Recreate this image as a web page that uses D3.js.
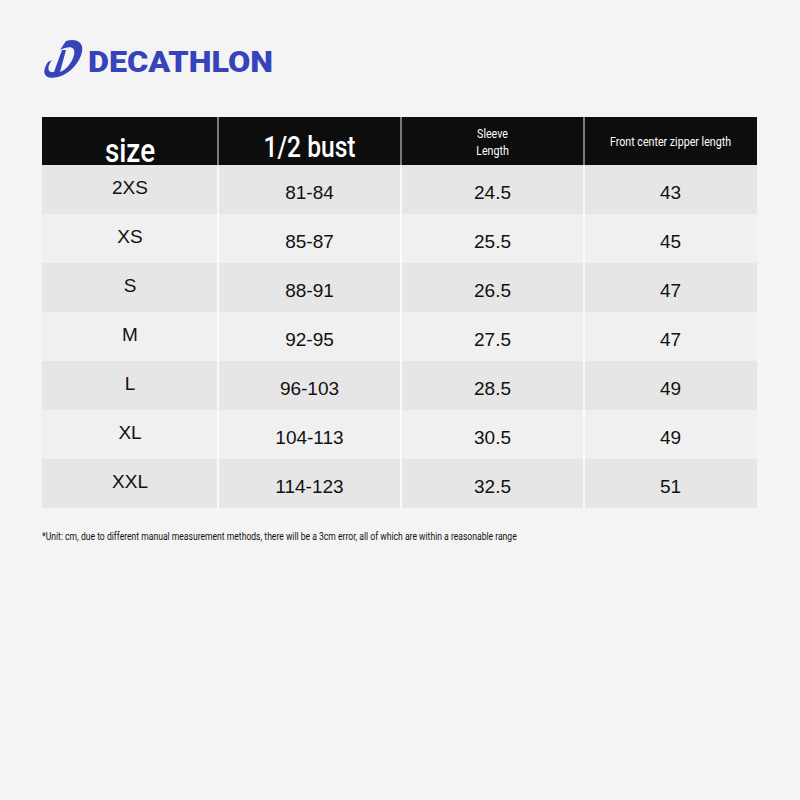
<!DOCTYPE html>
<html><head><meta charset="utf-8">
<script src="https://cdn.jsdelivr.net/npm/d3@7"></script>
<style>body{margin:0;background:#f4f4f4}</style></head>
<body><svg id="c" width="800" height="800"></svg>
<script>
const headers = ["size", "1/2 bust", "Sleeve\nLength", "Front center zipper length"];
const sizes = ["2XS", "XS", "S", "M", "L", "XL", "XXL"];
const bust = ["81-84", "85-87", "88-91", "92-95", "96-103", "104-113", "114-123"];
const sleeve = ["24.5", "25.5", "26.5", "27.5", "28.5", "30.5", "32.5"];
const zipper = ["43", "45", "47", "47", "49", "49", "51"];
const note = "*Unit: cm, due to different manual measurement methods, there will be a 3cm error, all of which are within a reasonable range";

const svg = d3.select("#c");
svg.append("rect").attr("width",800).attr("height",800).attr("fill","#f4f4f4");
const colEdges = [42, 218, 401, 584, 757];
const x = d3.scaleOrdinal().domain(d3.range(4)).range(colEdges.slice(0,4));
const w = i => colEdges[i+1]-colEdges[i];
const y = d3.scaleBand().domain(d3.range(sizes.length)).range([165, 508]).padding(0);
const cond = "'Roboto','Liberation Sans',sans-serif";

// logo
const g = svg.append("g").attr("fill","#3643BA");
g.append("path").attr("d","M48,62 C40,74 46,80 58,77 C70,74 80,62 82,52 C84,42 76,38 66,41 L60,50 C70,45 76,47 74,55 C72,63 66,70 60,72 L66,50 L62,50 L54,72 C48,73 46,68 52,60 Z");
g.append("text").attr("x",88).attr("y",72).attr("font-family",cond).attr("font-weight",900)
 .attr("font-size",30).attr("textLength",185).attr("lengthAdjust","spacingAndGlyphs").text("DECATHLON");

// header
svg.append("rect").attr("x",42).attr("y",117).attr("width",715).attr("height",48).attr("fill","#0d0d0d");
headers.forEach((h,i)=>{
  const cx = x(i)+w(i)/2;
  if(i>0) svg.append("line").attr("x1",x(i)).attr("x2",x(i)).attr("y1",117).attr("y2",165).attr("stroke","#e8e8e8").attr("stroke-width",1);
  const lines = h.split("\n");
  const fs = i<2?30:13;
  const t = svg.append("g").attr("transform",`translate(${cx},0) scale(0.82,1)`);
  lines.forEach((l,j)=>{
    const yy = i===0?162: i===1?157: i===2?(138+j*17): 146;
    t.append("text").attr("x",0).attr("y",yy).attr("text-anchor","middle")
     .attr("font-family",cond).attr("font-weight",i<2?500:400).attr("font-size",i===0?34:fs).attr("fill","#fff").text(l);
  });
});

// rows
const cols=[sizes,bust,sleeve,zipper];
sizes.forEach((s,r)=>{
  svg.append("rect").attr("x",42).attr("y",y(r)).attr("width",715).attr("height",y.bandwidth())
    .attr("fill", r%2===0?"#e6e6e6":"#f0f0f0");
  cols.forEach((c,i)=>{
    svg.append("text").attr("x",x(i)+w(i)/2).attr("y",y(r)+y.bandwidth()/2+(i===0?-1:4)).attr("dominant-baseline","middle")
      .attr("text-anchor","middle").attr("font-family","'Liberation Sans',Arial,sans-serif")
      .attr("font-size",19).attr("fill","#111").text(c[r]);
  });
});
[218,401,584].forEach(v=>svg.append("line").attr("x1",v).attr("x2",v).attr("y1",165).attr("y2",508).attr("stroke","#fff").attr("stroke-width",1.5));

svg.append("g").attr("transform","translate(42,540) scale(0.78,1)")
  .append("text").attr("x",0).attr("y",0).attr("font-family",cond).attr("font-size",11).attr("fill","#111").text(note);
</script></body></html>
